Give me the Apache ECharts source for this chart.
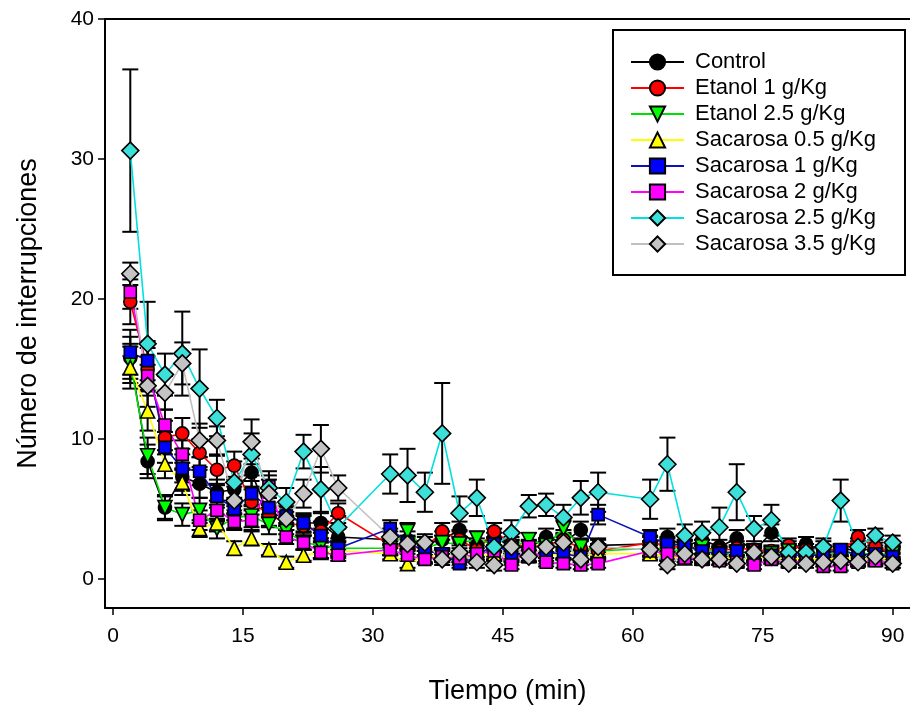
<!DOCTYPE html>
<html>
<head>
<meta charset="utf-8">
<script src="https://cdn.jsdelivr.net/npm/echarts@6/dist/echarts.min.js"></script>
<style>html,body{margin:0;padding:0;background:#fff;}#c{width:910px;height:707px;}</style>
</head>
<body>
<div id="c"></div>
<script>
// ---- data ----
const times = [2,4,6,8,10,12,14,16,18,20,22,24,26, 32,34,36,38,40,42,44,46,48,50,52,54,56, 62,64,66,68,70,72,74,76,78,80,82,84,86,88,90];
const xTicks = [0,15,30,45,60,75,90];
const yTicks = [0,10,20,30,40];
const seriesNames = ['Control','Etanol 1 g/Kg','Etanol 2.5 g/Kg','Sacarosa 0.5 g/Kg','Sacarosa 1 g/Kg','Sacarosa 2 g/Kg','Sacarosa 2.5 g/Kg','Sacarosa 3.5 g/Kg'];

const control = [15.8,8.4,5.1,7.3,6.8,6.2,6.4,7.6,4.5,4.6,4.0,4.0,3.0, 2.8,2.8,2.5,2.8,3.5,2.4,3.0,2.3,2.2,3.0,2.6,3.5,2.4, 2.5,3.0,2.3,2.8,2.3,2.9,2.0,3.3,2.2,2.5,2.0,2.0,2.2,2.0,2.0];
const controlErr = [1.5,1.2,0.9,1.0,1.0,0.9,0.9,1.0,0.8,0.8,0.7,0.7,0.6, 0.6,0.6,0.5,0.6,0.6,0.5,0.6,0.5,0.5,0.6,0.5,0.6,0.5, 0.5,0.6,0.5,0.5,0.5,0.6,0.4,0.6,0.5,0.5,0.4,0.4,0.5,0.4,0.4];

const etanol1 = [19.8,15.0,10.1,10.4,9.0,7.8,8.1,5.5,4.6,4.0,3.8,3.4,4.7, 2.4,2.3,2.2,3.4,2.8,2.1,3.4,2.5,2.3,2.4,2.8,2.2,2.0, 2.6,2.4,2.2,2.3,2.0,2.2,2.1,2.0,2.4,2.1,2.2,2.0,3.0,2.3,1.9];
const etanol1Err = [1.6,1.5,1.2,1.1,1.0,1.0,1.0,0.9,0.8,0.8,0.7,0.7,0.7, 0.6,0.5,0.5,0.6,0.6,0.5,0.6,0.5,0.5,0.5,0.5,0.5,0.5, 0.5,0.5,0.5,0.5,0.4,0.5,0.4,0.4,0.5,0.4,0.5,0.4,0.5,0.5,0.4];

const etanol25 = [15.4,8.8,5.1,4.6,4.9,3.6,4.4,4.5,3.9,3.4,2.6,2.4,2.2, 2.2,3.4,2.2,2.6,2.5,2.9,2.4,2.2,2.8,2.4,3.6,2.3,2.0, 2.2,2.1,2.0,2.3,1.8,1.9,1.8,1.8,2.0,1.7,1.9,1.8,1.9,1.7,1.8];
const etanol25Err = [1.4,1.3,0.8,0.8,0.9,0.7,0.8,0.8,0.7,0.6,0.5,0.5,0.5, 0.5,0.6,0.5,0.5,0.5,0.5,0.5,0.4,0.5,0.5,0.6,0.5,0.4, 0.5,0.4,0.4,0.5,0.4,0.4,0.4,0.4,0.4,0.3,0.4,0.4,0.4,0.3,0.4];

const sacarosa05 = [15.1,12.0,8.2,6.9,3.6,4.0,2.2,2.9,2.1,1.2,1.7,1.9,2.0, 1.8,1.1,1.6,1.7,1.5,1.6,1.8,1.5,1.7,1.6,1.9,1.7,1.8, 1.8,1.6,1.5,1.7,1.6,1.4,1.5,1.6,1.4,1.5,1.4,1.5,1.5,1.4,1.5];
const sacarosa05Err = [1.5,1.4,1.0,0.9,0.6,0.6,0.5,0.5,0.4,0.4,0.4,0.4,0.4, 0.4,0.3,0.4,0.4,0.3,0.4,0.4,0.3,0.4,0.3,0.4,0.4,0.4, 0.4,0.3,0.3,0.4,0.3,0.3,0.3,0.3,0.3,0.3,0.3,0.3,0.3,0.3,0.3];

const sacarosa1 = [16.2,15.6,9.4,7.9,7.7,5.9,5.0,6.1,5.1,4.5,4.0,3.1,2.2, 3.6,2.6,2.0,1.8,1.1,1.6,2.5,1.8,1.6,1.9,1.8,1.6,4.6, 3.0,2.5,2.4,2.0,1.8,2.0,1.8,1.7,1.8,1.6,1.8,2.1,1.7,1.8,1.6];
const sacarosa1Err = [1.6,1.4,1.1,1.0,1.0,0.8,0.8,0.9,0.7,0.7,0.6,0.5,0.4, 0.6,0.5,0.4,0.4,0.3,0.4,0.5,0.4,0.4,0.4,0.4,0.4,0.7, 0.5,0.5,0.4,0.4,0.4,0.4,0.4,0.4,0.4,0.3,0.4,0.4,0.4,0.4,0.3];

const sacarosa2 = [20.5,14.5,11.0,8.9,4.2,4.9,4.1,4.2,6.6,3.0,2.6,1.9,1.7, 2.1,1.7,1.4,1.6,1.5,1.8,2.0,1.0,2.3,1.2,1.1,1.0,1.1, 2.0,1.8,1.5,1.4,1.3,1.2,1.0,1.4,1.2,1.3,0.9,0.9,1.2,1.3,1.1];
const sacarosa2Err = [1.2,1.4,1.1,1.0,0.7,0.7,0.6,0.7,0.8,0.5,0.5,0.4,0.4, 0.4,0.4,0.3,0.4,0.3,0.4,0.4,0.3,0.4,0.3,0.3,0.3,0.3, 0.4,0.4,0.3,0.3,0.3,0.3,0.3,0.3,0.3,0.3,0.3,0.3,0.3,0.3,0.3];

const sacarosa25 = [30.6,16.8,14.6,16.1,13.6,11.5,6.9,8.9,6.5,5.5,9.1,6.4,3.7, 7.5,7.4,6.2,10.4,4.7,5.8,2.3,3.3,5.2,5.3,4.4,5.8,6.2, 5.7,8.2,3.1,3.3,3.7,6.2,3.6,4.2,1.9,1.9,2.3,5.6,2.3,3.1,2.6];
const sacarosa25Err = [5.8,3.0,1.5,3.0,2.8,1.3,1.5,1.5,1.2,1.0,1.2,1.6,0.8, 1.4,1.9,1.4,3.6,1.2,1.3,1.0,0.9,0.8,0.8,0.9,1.2,1.4, 1.4,1.9,0.8,0.8,1.4,2.0,0.9,1.1,0.6,0.6,0.6,1.5,0.6,0.5,0.5];

const sacarosa35 = [21.8,13.8,13.3,15.4,9.9,9.9,5.6,9.8,6.1,4.3,6.1,9.3,6.5, 3.0,2.5,2.6,1.4,1.9,1.2,1.0,2.3,1.6,2.3,2.6,1.4,2.3, 2.1,1.0,1.8,1.4,1.4,1.1,1.9,1.6,1.1,1.1,1.2,1.3,1.2,1.6,1.1];
const sacarosa35Err = [0.8,1.5,1.2,1.5,1.2,1.0,1.0,1.6,1.0,0.8,1.0,1.7,0.9, 0.6,0.5,0.6,0.4,0.5,0.4,0.4,0.5,0.4,0.5,0.6,0.4,0.5, 0.5,0.3,0.4,0.4,0.4,0.3,0.4,0.4,0.3,0.3,0.3,0.3,0.3,0.4,0.3];

const values = [control, etanol1, etanol25, sacarosa05, sacarosa1, sacarosa2, sacarosa25, sacarosa35];
const errors = [controlErr, etanol1Err, etanol25Err, sacarosa05Err, sacarosa1Err, sacarosa2Err, sacarosa25Err, sacarosa35Err];

// ---- styles ----
const lineColors = ['#000000','#ff0000','#00e000','#ffff00','#1010b8','#ff00ff','#00e0e0','#c0c0c0'];
const fillColors = ['#000000','#ff0000','#00ff00','#ffff00','#0000ff','#ff00ff','#3ce0d8','#c4c4c4'];
const symbols = ['circle','circle','path://M0,0 L10,0 L5,9 Z','triangle','rect','rect','diamond','diamond'];
const sizes = [13,13,14,14,12,12,17,17];

const series = [];
seriesNames.forEach(function(name, i){
  const pts = times.map(function(t, k){ return [t, values[i][k], errors[i][k]]; });
  series.push({
    type: 'custom',
    name: name + ' err',
    data: pts,
    encode: {x: 0, y: 1},
    z: 2,
    silent: true,
    renderItem: function(params, api){
      const x = api.value(0), y = api.value(1), e = api.value(2);
      const top = api.coord([x, y + e]);
      const bot = api.coord([x, y - e]);
      const hw = 8;
      const st = {stroke: '#000', lineWidth: 2};
      return {type: 'group', children: [
        {type: 'line', shape: {x1: top[0], y1: top[1], x2: bot[0], y2: bot[1]}, style: st},
        {type: 'line', shape: {x1: top[0]-hw, y1: top[1], x2: top[0]+hw, y2: top[1]}, style: st},
        {type: 'line', shape: {x1: bot[0]-hw, y1: bot[1], x2: bot[0]+hw, y2: bot[1]}, style: st}
      ]};
    }
  });
  series.push({
    type: 'line',
    name: name,
    data: times.map(function(t, k){ return [t, values[i][k]]; }),
    z: 2,
    symbol: symbols[i],
    symbolSize: sizes[i],
    showAllSymbol: true,
    lineStyle: {color: lineColors[i], width: 1.6},
    itemStyle: {color: fillColors[i], borderColor: '#000', borderWidth: 1.6},
    emphasis: {disabled: true}
  });
});

const font = 'Liberation Sans, Arial, sans-serif';
const chart = echarts.init(document.getElementById('c'), null, {renderer: 'canvas'});
chart.setOption({
  animation: false,
  backgroundColor: '#fff',
  grid: {left: 105, right: 0, top: 19, bottom: 99, outerBoundsMode: 'none', containLabel: false},
  legend: {
    data: seriesNames,
    orient: 'vertical',
    left: 613, top: 30,
    padding: [21, 29, 20, 17],
    backgroundColor: '#fff',
    borderColor: '#000', borderWidth: 2,
    itemWidth: 53, itemHeight: 19, itemGap: 4,
    textStyle: {fontFamily: font, fontSize: 22, color: '#000', padding: [0,0,0,6]},
    selectedMode: false
  },
  xAxis: [{
    type: 'value', min: -0.92, max: 92,
    name: 'Tiempo (min)', nameLocation: 'middle', nameGap: 70,
    nameTextStyle: {fontFamily: font, fontSize: 27, color: '#000'},
    axisLine: {show: true, onZero: false, lineStyle: {color: '#000', width: 2}},
    axisTick: {show: true, length: 7, lineStyle: {color: '#000', width: 1.5}, customValues: xTicks},
    axisLabel: {fontFamily: font, fontSize: 21, color: '#000', margin: 18, customValues: xTicks},
    splitLine: {show: false}
  },{
    type: 'value', position: 'top', min: -0.92, max: 92,
    axisLine: {show: true, onZero: false, lineStyle: {color: '#000', width: 2}},
    axisTick: {show: false}, axisLabel: {show: false}, splitLine: {show: false}
  }],
  yAxis: {
    type: 'value', min: -2.07, max: 40,
    name: 'Número de interrupciones', nameLocation: 'middle', nameGap: 63, nameRotate: 90,
    nameTextStyle: {fontFamily: font, fontSize: 27, color: '#000'},
    axisLine: {show: true, onZero: false, lineStyle: {color: '#000', width: 2}},
    axisTick: {show: true, length: 7, lineStyle: {color: '#000', width: 1.5}, customValues: yTicks},
    axisLabel: {fontFamily: font, fontSize: 21, color: '#000', margin: 11, customValues: yTicks},
    splitLine: {show: false}
  },
  series: series
});
</script>
</body>
</html>
